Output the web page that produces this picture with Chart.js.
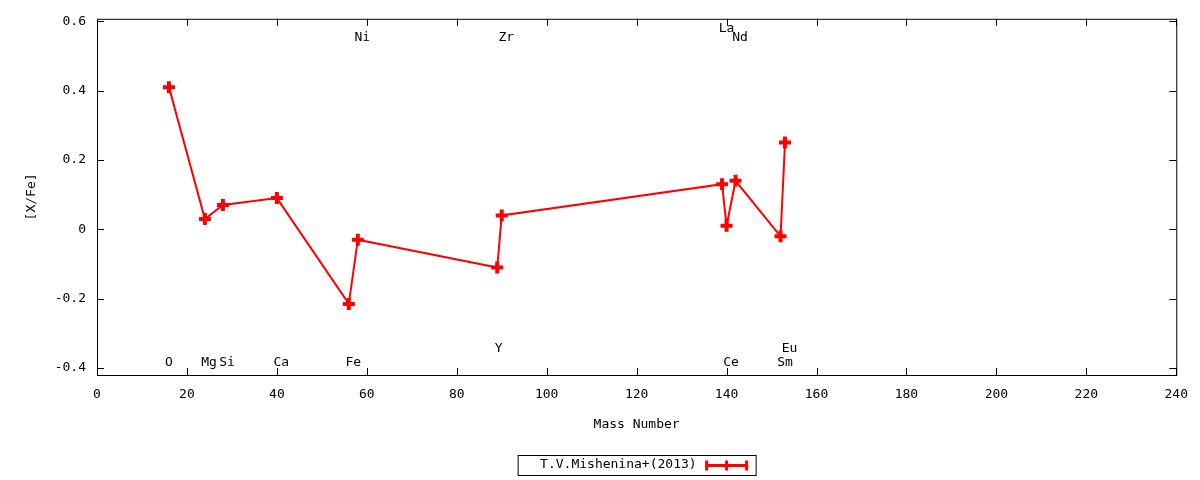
<!DOCTYPE html>
<html>
<head>
<meta charset="utf-8">
<script src="https://cdn.jsdelivr.net/npm/chart.js@4/dist/chart.umd.min.js"></script>
<style>
  html, body { margin: 0; padding: 0; background: #fff; }
  #wrap { width: 1200px; height: 480px; }
</style>
</head>
<body>
<div id="wrap"><canvas id="c" width="1200" height="480"></canvas></div>
<script>
// element names, mass numbers and [X/Fe]
const elements = ['O', 'Mg', 'Si', 'Ca', 'Fe', 'Ni', 'Y', 'Zr', 'La', 'Ce', 'Nd', 'Sm', 'Eu'];
const massNumbers = [16, 24, 28, 40, 56, 58, 89, 90, 139, 140, 142, 152, 153];
const xFe = [0.41, 0.03, 0.07, 0.09, -0.215, -0.03, -0.11, 0.04, 0.13, 0.01, 0.14, -0.02, 0.25];

// where the element names sit (data coords)
const labelX = [16, 24.9, 28.9, 41, 57, 59, 89.3, 91, 140, 141, 143, 153, 154];
const labelY = [-0.385, -0.385, -0.385, -0.385, -0.385, 0.553, -0.345, 0.553, 0.58, -0.385, 0.553, -0.385, -0.345];

const xTicks = [0, 20, 40, 60, 80, 100, 120, 140, 160, 180, 200, 220, 240];
const yTicks = [-0.4, -0.2, 0, 0.2, 0.4, 0.6];

const seriesName = 'T.V.Mishenina+(2013)';
const FONT = '13px "DejaVu Sans Mono", monospace';

const points = massNumbers.map((m, i) => ({ x: m, y: xFe[i] }));

// frame, inward ticks, element names, axis titles and key
const gnuplotLook = {
    id: 'gnuplotLook',
    afterDatasetsDraw(chart) {
        const ctx = chart.ctx;
        const { left, right, top, bottom } = chart.chartArea;
        const xs = chart.scales.x, ys = chart.scales.y;
        ctx.save();

        // frame
        ctx.strokeStyle = '#000';
        ctx.lineWidth = 1;
        ctx.strokeRect(left + 0.5, top + 0.5, right - left, bottom - top);

        // ticks inward on all sides
        ctx.beginPath();
        xTicks.forEach(v => {
            const px = Math.round(xs.getPixelForValue(v)) + 0.5;
            ctx.moveTo(px, bottom); ctx.lineTo(px, bottom - 7);
            ctx.moveTo(px, top); ctx.lineTo(px, top + 7);
        });
        yTicks.forEach(v => {
            const py = Math.round(ys.getPixelForValue(v)) + 0.5;
            ctx.moveTo(left, py); ctx.lineTo(left + 7, py);
            ctx.moveTo(right, py); ctx.lineTo(right - 7, py);
        });
        ctx.stroke();

        // element names
        ctx.fillStyle = '#000';
        ctx.font = FONT;
        ctx.textAlign = 'center';
        ctx.textBaseline = 'middle';
        elements.forEach((el, i) => {
            ctx.fillText(el, xs.getPixelForValue(labelX[i]), ys.getPixelForValue(labelY[i]));
        });

        // axis titles
        ctx.fillText('Mass Number', (left + right) / 2, 425);
        ctx.save();
        ctx.translate(32, (top + bottom) / 2);
        ctx.rotate(-Math.PI / 2);
        ctx.fillText('[X/Fe]', 0, 0);
        ctx.restore();

        // key box
        const cx = (left + right) / 2;
        const bx = cx - 119, by = 455, bw = 238, bh = 20;
        ctx.strokeRect(bx + 0.5, by + 0.5, bw, bh);
        ctx.textAlign = 'right';
        ctx.fillText(seriesName, bx + 179, by + 10);
        const ly = by + 10.5;
        ctx.strokeStyle = '#ff0000';
        ctx.lineWidth = 3;
        ctx.beginPath();
        ctx.moveTo(bx + 188, ly); ctx.lineTo(bx + 230, ly);
        ctx.moveTo(bx + 189, ly - 5); ctx.lineTo(bx + 189, ly + 5);
        ctx.moveTo(bx + 229, ly - 5); ctx.lineTo(bx + 229, ly + 5);
        ctx.moveTo(bx + 209, ly - 5); ctx.lineTo(bx + 209, ly + 5);
        ctx.stroke();
        ctx.restore();
    }
};

new Chart(document.getElementById('c'), {
    type: 'line',
    data: {
        datasets: [{
            label: seriesName,
            data: points,
            borderColor: '#ff0000',
            backgroundColor: '#ff0000',
            borderWidth: 2,
            pointStyle: 'cross',
            pointRadius: 6,
            pointBorderWidth: 4,
            pointHoverRadius: 6,
            tension: 0
        }]
    },
    options: {
        responsive: false,
        animation: false,
        events: [],
        layout: { padding: { left: 0, right: 23, top: 18, bottom: 0 } },
        plugins: {
            legend: { display: false },
            tooltip: { enabled: false }
        },
        scales: {
            x: {
                type: 'linear',
                min: 0,
                max: 240,
                afterBuildTicks: s => { s.ticks = xTicks.map(v => ({ value: v })); },
                afterFit: s => { s.height = 105; },
                grid: { display: false, drawTicks: false },
                border: { display: false },
                ticks: {
                    color: '#000',
                    font: { family: '"DejaVu Sans Mono", monospace', size: 13 },
                    padding: 12,
                    maxRotation: 0
                }
            },
            y: {
                type: 'linear',
                min: -0.42,
                max: 0.607,
                afterBuildTicks: s => { s.ticks = yTicks.map(v => ({ value: v })); },
                afterFit: s => { s.width = 97; },
                grid: { display: false, drawTicks: false },
                border: { display: false },
                ticks: {
                    color: '#000',
                    font: { family: '"DejaVu Sans Mono", monospace', size: 13 },
                    padding: 11,
                    callback: v => (Math.abs(v) < 1e-9 ? '0' : v.toFixed(1))
                }
            }
        }
    },
    plugins: [gnuplotLook]
});
</script>
</body>
</html>
